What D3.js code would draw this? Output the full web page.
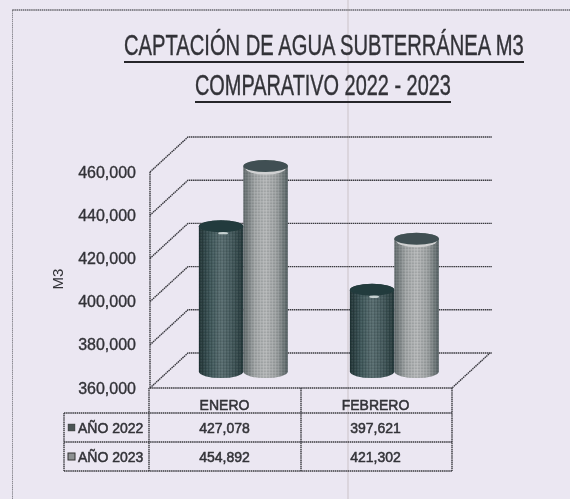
<!DOCTYPE html>
<html>
<head>
<meta charset="utf-8">
<script src="https://cdn.jsdelivr.net/npm/d3@7"></script>
<style>
  html, body { margin: 0; padding: 0; background: #ebe7f2; }
  svg { display: block; }
  text { font-family: "Liberation Sans", Arial, sans-serif; fill: #333338; }
</style>
</head>
<body>
<script>
// chart values
const months = ['ENERO', 'FEBRERO'];
const seriesNames = ['AÑO 2022', 'AÑO 2023'];
const values2022 = [427078, 397621];
const values2023 = [454892, 421302];
const yTicks = [360000, 380000, 400000, 420000, 440000, 460000];
const titleLines = ['CAPTACIÓN DE AGUA SUBTERRÁNEA M3', 'COMPARATIVO 2022 - 2023'];

const width = 570, height = 499;
const plot = { left: 150, right: 452, top: 172, bottom: 388, depthX: 38, depthY: -35, barDepth: 0.47, barWidth: 44.5, ry: 6.5 };
const table = { left: 64, top: 413, row: 29 };

const svg = d3.select('body').append('svg')
    .attr('width', width)
    .attr('height', height);

const defs = svg.append('defs');

// soft scan look
defs.append('filter').attr('id', 'scan')
    .attr('x', 0).attr('y', 0).attr('width', 1).attr('height', 1)
    .append('feGaussianBlur').attr('stdDeviation', 0.4);

// cylinder shading
const shades = [
    { id: 'shade-0', stops: ['#1c2f31', '#3a5356', '#566b6e', '#405659', '#1f3335'] },
    { id: 'shade-1', stops: ['#5f686a', '#a3a7a8', '#b8babb', '#9ea2a3', '#546062'] }
];
shades.forEach(s => {
    const g = defs.append('linearGradient').attr('id', s.id);
    s.stops.forEach((c, i) => g.append('stop')
        .attr('offset', `${i * 25}%`)
        .attr('stop-color', c));
});

// printed halftone dots
const dots = defs.append('pattern').attr('id', 'halftone')
    .attr('width', 3).attr('height', 3)
    .attr('patternUnits', 'userSpaceOnUse');
dots.append('rect').attr('width', 1.4).attr('height', 1.4).attr('fill', '#1c2426').attr('opacity', 0.3);
dots.append('rect').attr('x', 1.5).attr('y', 1.5).attr('width', 1.4).attr('height', 1.4).attr('fill', '#ffffff').attr('opacity', 0.16);

const canvas = svg.append('g').attr('filter', 'url(#scan)');

const dotted = sel => sel
    .attr('stroke', '#38383e')
    .attr('stroke-width', 1.4)
    .attr('stroke-dasharray', '1.5 0.6')
    .attr('fill', 'none');

// page fold and outer frame
canvas.append('line')
    .attr('x1', 348).attr('x2', 348).attr('y1', 0).attr('y2', height)
    .attr('stroke', '#d6cfd6').attr('stroke-width', 1.5);
canvas.append('path')
    .attr('d', `M12,${height}V10H${width}`)
    .call(dotted)
    .attr('stroke', '#66666c');

// title, narrowed to the printed width
const titleBoxes = [{ x: 124, w: 400, y: 55, ul: 62 }, { x: 195, w: 256, y: 95, ul: 102 }];
titleLines.forEach((t, i) => {
    const b = titleBoxes[i];
    const label = canvas.append('text')
        .attr('font-size', 29)
        .attr('stroke', '#333338').attr('stroke-width', 0.4)
        .text(t);
    const sx = b.w / label.node().getComputedTextLength();
    label.attr('transform', `translate(${b.x},${b.y}) scale(${sx},1)`);
    canvas.append('line')
        .attr('x1', b.x).attr('x2', b.x + b.w)
        .attr('y1', b.ul).attr('y2', b.ul)
        .attr('stroke', '#26262a').attr('stroke-width', 1.8);
});

// scales
const y = d3.scaleLinear().domain([360000, 460000]).range([plot.bottom, plot.top]);
const x0 = d3.scaleBand().domain(months).range([plot.left, plot.right]);
const x1 = d3.scaleBand().domain(seriesNames)
    .range([x0.bandwidth() / 2 - plot.barWidth, x0.bandwidth() / 2 + plot.barWidth]);

// back wall gridlines and left wall diagonals
const grid = canvas.append('g');
yTicks.forEach(t => {
    grid.append('path')
        .attr('d', `M${plot.left},${y(t)}L${plot.left + plot.depthX},${y(t) + plot.depthY}H${plot.right + plot.depthX + 2}`)
        .call(dotted);
});
grid.append('line')
    .attr('x1', plot.left).attr('x2', plot.left)
    .attr('y1', y(460000)).attr('y2', y(360000))
    .call(dotted);

// floor
grid.append('path')
    .attr('d', `M${plot.left},${y(360000)}H${plot.right}L${plot.right + plot.depthX},${y(360000) + plot.depthY}`)
    .call(dotted);

// y axis labels
const yAxis = d3.axisLeft(y)
    .tickValues(yTicks)
    .tickSize(0)
    .tickPadding(14)
    .tickFormat(d3.format(','));
const yAxisGroup = canvas.append('g')
    .attr('transform', `translate(${plot.left},0)`)
    .call(yAxis);
yAxisGroup.select('.domain').remove();
yAxisGroup.selectAll('text')
    .attr('font-size', 16)
    .attr('font-family', '"Liberation Sans", Arial, sans-serif')
    .attr('fill', '#333338')
    .attr('stroke', '#333338')
    .attr('stroke-width', 0.35);

canvas.append('text')
    .attr('transform', 'translate(63,279) rotate(-90)')
    .attr('text-anchor', 'middle')
    .attr('font-size', 15)
    .text('M3');

// cylinders
const barData = [values2022, values2023].flatMap((vals, s) =>
    vals.map((v, m) => ({ month: months[m], series: seriesNames[s], index: s, value: v })));

const depthOffsetX = plot.depthX * plot.barDepth;
const depthOffsetY = plot.depthY * plot.barDepth;

const bars = canvas.append('g').selectAll('g')
    .data(barData)
    .join('g')
    .attr('transform', d => `translate(${x0(d.month) + x1(d.series) + depthOffsetX},${depthOffsetY})`);

const cylinderPath = d => {
    const w = x1.bandwidth(), top = y(d.value), base = y(360000);
    return `M0,${top}V${base}A${w / 2},${plot.ry} 0 0 0 ${w},${base}V${top}A${w / 2},${plot.ry} 0 0 0 0,${top}Z`;
};

bars.append('path')
    .attr('d', cylinderPath)
    .attr('fill', d => `url(#shade-${d.index})`);
bars.append('path')
    .attr('d', cylinderPath)
    .attr('fill', 'url(#halftone)');

// lit rim on the light cylinders, then the dark cap
bars.filter(d => d.index === 1).append('ellipse')
    .attr('cx', x1.bandwidth() / 2)
    .attr('cy', d => y(d.value) + 1.5)
    .attr('rx', x1.bandwidth() / 2 - 2)
    .attr('ry', plot.ry)
    .attr('fill', '#cfd0d1');
bars.append('ellipse')
    .attr('cx', x1.bandwidth() / 2)
    .attr('cy', d => y(d.value) - 0.5)
    .attr('rx', x1.bandwidth() / 2)
    .attr('ry', plot.ry - 0.5)
    .attr('fill', d => d.index ? '#3f5052' : '#223a3c');
bars.filter(d => d.index === 0).append('ellipse')
    .attr('cx', x1.bandwidth() / 2 + 2)
    .attr('cy', d => y(d.value) + 6.5)
    .attr('rx', 5)
    .attr('ry', 1.2)
    .attr('fill', '#c5d0d0');

// data table
const tableRows = [values2022, values2023];
const rowY = d3.scaleBand().domain(seriesNames).range([table.top, table.top + table.row * 2]);
const tableGrid = canvas.append('g');
const tableBottom = table.top + table.row * 2;

tableGrid.append('path')
    .attr('d', `M${table.left},${table.top}H${plot.right}M${table.left},${table.top + table.row}H${plot.right}M${table.left},${tableBottom}H${plot.right}`)
    .call(dotted).attr('stroke-width', 1.7);
[table.left, plot.left - 1, x0(months[1]), plot.right].forEach((vx, i) => {
    tableGrid.append('line')
        .attr('x1', vx).attr('x2', vx)
        .attr('y1', i === 0 ? table.top : plot.bottom)
        .attr('y2', tableBottom)
        .call(dotted);
});

// month labels
months.forEach(m => {
    canvas.append('text')
        .attr('x', x0(m) + x0.bandwidth() / 2 - 1)
        .attr('y', 410)
        .attr('text-anchor', 'middle')
        .attr('font-size', 14)
        .attr('stroke', '#333338').attr('stroke-width', 0.5)
        .text(m);
});

seriesNames.forEach((name, s) => {
    const cy = rowY(name) + rowY.bandwidth() / 2;
    canvas.append('rect')
        .attr('x', 68).attr('y', cy - 3.5)
        .attr('width', 7).attr('height', 7)
        .attr('fill', s ? '#8d9192' : '#4b5456')
        .attr('stroke', '#333').attr('stroke-width', s ? 1 : 0.4);
    canvas.append('text')
        .attr('x', 78).attr('y', cy + 5)
        .attr('font-size', 14)
        .attr('stroke', '#333338').attr('stroke-width', 0.5)
        .text(name);
    months.forEach((m, i) => {
        canvas.append('text')
            .attr('x', x0(m) + x0.bandwidth() / 2 - 1)
            .attr('y', cy + 5)
            .attr('text-anchor', 'middle')
            .attr('font-size', 14)
            .attr('stroke', '#333338').attr('stroke-width', 0.5)
            .text(d3.format(',')(tableRows[s][i]));
    });
});
</script>
</body>
</html>
